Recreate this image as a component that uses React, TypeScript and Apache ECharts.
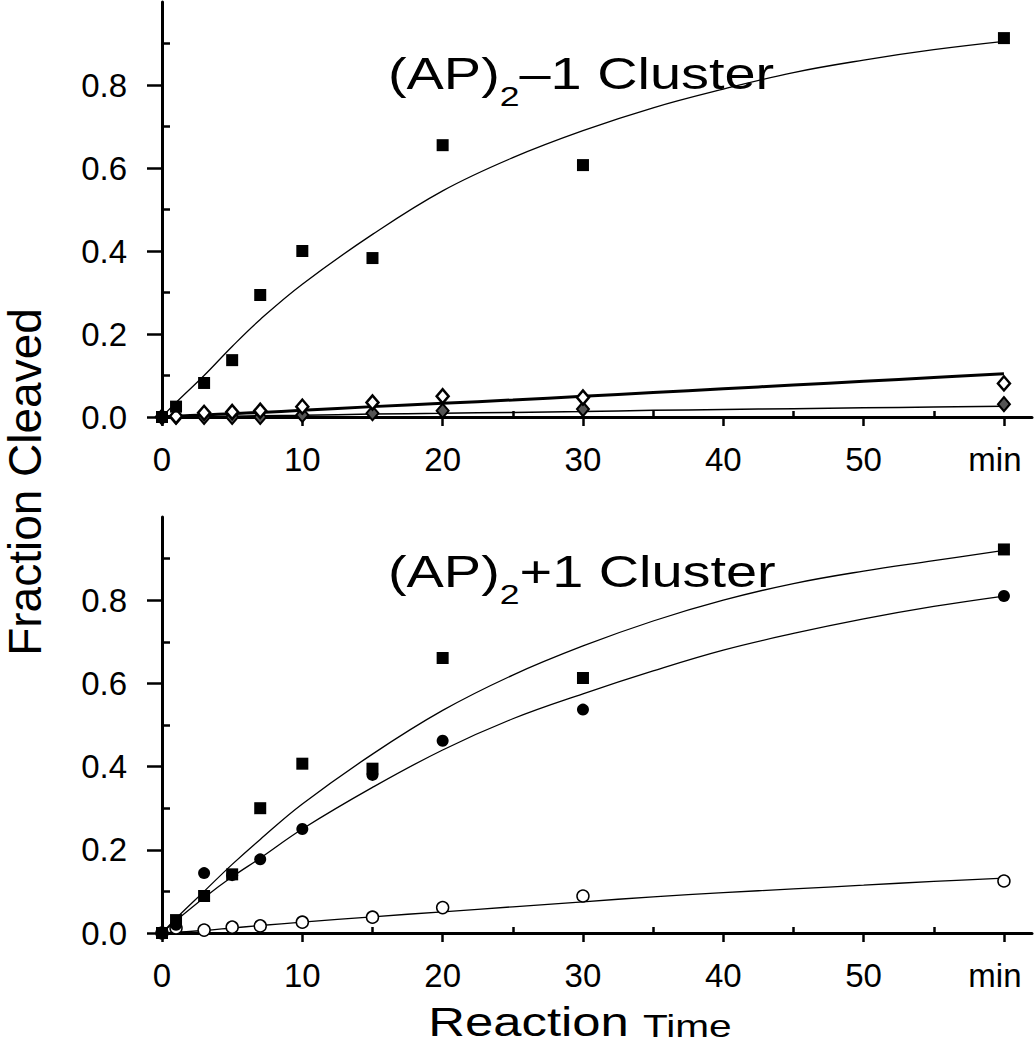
import React, { useEffect, useRef } from "react";
import * as echarts from "echarts";

// ---- data ----
const times = [0, 1, 3, 5, 7, 10, 15, 20, 30, 60];

// top panel: (AP)2-1 cluster
const topSquares = [0, 0.025, 0.082, 0.137, 0.294, 0.4, 0.383, 0.655, 0.607, 0.913];
const topOpenDiamonds = [0, 0.002, 0.01, 0.012, 0.015, 0.025, 0.035, 0.05, 0.047, 0.081];
const topFilledDiamonds = [0, 0, 0, 0, 0, 0.005, 0.009, 0.015, 0.019, 0.031];

// bottom panel: (AP)2+1 cluster
const botSquares = [0, 0.031, 0.089, 0.141, 0.3, 0.407, 0.395, 0.661, 0.613, 0.922];
const botCircles = [0, 0.02, 0.144, 0.139, 0.177, 0.25, 0.38, 0.462, 0.537, 0.81];
const botOpenCircles = [0, 0.012, 0.007, 0.014, 0.017, 0.026, 0.038, 0.061, 0.089, 0.125];

// fitted curves
const fitTimes = [0, 1, 3, 5, 7, 10, 15, 20, 25, 30, 35, 40, 45, 50, 55, 60];
const topSquareFit = [0, 0.035, 0.1, 0.17, 0.235, 0.32, 0.44, 0.545, 0.625, 0.69, 0.745, 0.79, 0.83, 0.86, 0.885, 0.905];
const topOpenDiamondFit = [0, 0.002, 0.005, 0.008, 0.011, 0.016, 0.025, 0.033, 0.041, 0.05, 0.059, 0.068, 0.077, 0.086, 0.095, 0.104];
const topFilledDiamondFit = [0, 0, 0.001, 0.002, 0.003, 0.004, 0.007, 0.009, 0.011, 0.013, 0.016, 0.018, 0.02, 0.022, 0.024, 0.026];
const botSquareFit = [0, 0.035, 0.1, 0.165, 0.225, 0.31, 0.43, 0.535, 0.62, 0.69, 0.75, 0.8, 0.84, 0.87, 0.895, 0.92];
const botCircleFit = [0, 0.03, 0.085, 0.135, 0.18, 0.25, 0.35, 0.44, 0.515, 0.575, 0.63, 0.68, 0.72, 0.755, 0.785, 0.81];
const botOpenCircleFit = [0, 0.002, 0.006, 0.012, 0.018, 0.026, 0.039, 0.051, 0.063, 0.075, 0.087, 0.097, 0.106, 0.115, 0.124, 0.132];

// axis ticks
const xMajorTicks = [0, 10, 20, 30, 40, 50, 60];
const xMinorTicks = [5, 15, 25, 35, 45, 55];
const yMajorTicks = [0, 0.2, 0.4, 0.6, 0.8];
const yMinorTicks = [0.1, 0.3, 0.5, 0.7, 0.9];
const lastTickLabel = "min";

const FONT = "'Liberation Sans', Arial, sans-serif";

const pairs = (xs: number[], ys: number[]) => xs.map((x, i) => [x, ys[i]]);

function App() {
  const ref = useRef<HTMLDivElement>(null);
  useEffect(() => {
    if (!ref.current) return;
    const chart = echarts.init(ref.current, undefined, { renderer: "svg" });

    const grids = [
      { left: 162, top: 2, width: 870, height: 415 },
      { left: 162, top: 517, width: 870, height: 416 },
    ];

    const xAxes: any[] = [];
    const yAxes: any[] = [];
    grids.forEach((_, g) => {
      xAxes.push({
        type: "value",
        gridIndex: g,
        min: 0,
        max: 62,
        splitLine: { show: false },
        axisLine: { lineStyle: { color: "#000", width: 3 } },
        axisTick: { customValues: xMajorTicks, length: 9, lineStyle: { color: "#000", width: 2.5 } },
        axisLabel: {
          customValues: xMajorTicks,
          formatter: (v: number) => (v === 60 ? "{m|" + lastTickLabel + "}" : String(v)),
          fontFamily: FONT,
          fontSize: 33,
          color: "#000",
          margin: 26,
          rich: { m: { fontFamily: FONT, fontSize: 33, color: "#000", padding: [0, 18, 0, 0] } },
        },
      });
      xAxes.push({
        type: "value",
        gridIndex: g,
        min: 0,
        max: 62,
        splitLine: { show: false },
        axisLine: { show: false },
        axisTick: { customValues: xMinorTicks, length: 6, lineStyle: { color: "#000", width: 2.5 } },
        axisLabel: { show: false },
      });
      yAxes.push({
        type: "value",
        gridIndex: g,
        min: 0,
        max: 1,
        splitLine: { show: false },
        axisLine: { show: true, lineStyle: { color: "#000", width: 3 } },
        axisTick: { show: true, customValues: yMajorTicks, length: 15, lineStyle: { color: "#000", width: 2.5 } },
        axisLabel: {
          customValues: yMajorTicks,
          formatter: (v: number) => v.toFixed(1),
          fontFamily: FONT,
          fontSize: 33,
          color: "#000",
          margin: 35,
        },
      });
      yAxes.push({
        type: "value",
        gridIndex: g,
        min: 0,
        max: 1,
        splitLine: { show: false },
        axisLine: { show: false },
        axisTick: { show: true, customValues: yMinorTicks, length: 8, lineStyle: { color: "#000", width: 2.5 } },
        axisLabel: { show: false },
      });
    });

    const fitLine = (g: number, ys: number[], width: number) => ({
      type: "line",
      xAxisIndex: g * 2,
      yAxisIndex: g * 2,
      data: pairs(fitTimes, ys),
      smooth: 0.4,
      showSymbol: false,
      symbol: "none",
      clip: false,
      lineStyle: { color: "#000", width },
      z: 2,
    });
    const pts = (g: number, ys: number[], symbol: string, size: any, fill: string, border: number) => ({
      type: "scatter",
      xAxisIndex: g * 2,
      yAxisIndex: g * 2,
      data: pairs(times, ys),
      symbol,
      symbolSize: size,
      clip: false,
      itemStyle: { color: fill, borderColor: "#000", borderWidth: border, opacity: 1 },
      z: 3,
    });

    const titleRich = {
      a: { fontFamily: FONT, fontSize: 44, lineHeight: 48, verticalAlign: "middle" },
      s: { fontFamily: FONT, fontSize: 28, lineHeight: 28, verticalAlign: "bottom", padding: [0, 0, -12, 0] },
    };

    chart.setOption({
      animation: false,
      backgroundColor: "#fff",
      grid: grids,
      xAxis: xAxes,
      yAxis: yAxes,
      series: [
        fitLine(0, topSquareFit, 1.3),
        fitLine(0, topOpenDiamondFit, 3),
        fitLine(0, topFilledDiamondFit, 1.5),
        pts(0, topFilledDiamonds, "diamond", [12, 14], "#555", 2),
        pts(0, topOpenDiamonds, "diamond", [12, 14], "#fff", 2.5),
        pts(0, topSquares, "rect", 12, "#000", 0),
        fitLine(1, botSquareFit, 1.3),
        fitLine(1, botCircleFit, 1.3),
        fitLine(1, botOpenCircleFit, 1.3),
        pts(1, botOpenCircles, "circle", 12, "#fff", 1.5),
        pts(1, botCircles, "circle", 12, "#000", 0),
        pts(1, botSquares, "rect", 12, "#000", 0),
      ],
      graphic: [
        {
          type: "text",
          x: 388,
          y: 50,
          scaleX: 1.27,
          style: { text: "{a|(AP)}{s|2}{a|–1 Cluster}", fill: "#000", rich: titleRich },
        },
        {
          type: "text",
          x: 388,
          y: 548,
          scaleX: 1.27,
          style: { text: "{a|(AP)}{s|2}{a|+1 Cluster}", fill: "#000", rich: titleRich },
        },
        {
          type: "text",
          x: 25,
          y: 482,
          rotation: Math.PI / 2,
          style: {
            text: "Fraction Cleaved",
            fill: "#000",
            fontFamily: FONT,
            fontSize: 46,
            lineHeight: 46,
            align: "center",
            verticalAlign: "middle",
          },
        },
        {
          type: "text",
          x: 580,
          y: 1020,
          scaleX: 1.27,
          style: {
            text: "{a|Reaction }{b|Time}",
            fill: "#000",
            align: "center",
            verticalAlign: "middle",
            rich: {
              a: { fontFamily: FONT, fontSize: 40, lineHeight: 44, verticalAlign: "bottom" },
              b: { fontFamily: FONT, fontSize: 32, lineHeight: 39, verticalAlign: "bottom" },
            },
          },
        },
      ],
    });
    return () => chart.dispose();
  }, []);
  return <div ref={ref} style={{ position: "absolute", left: 0, top: 0, width: 1034, height: 1050 }} />;
}

export default App;
